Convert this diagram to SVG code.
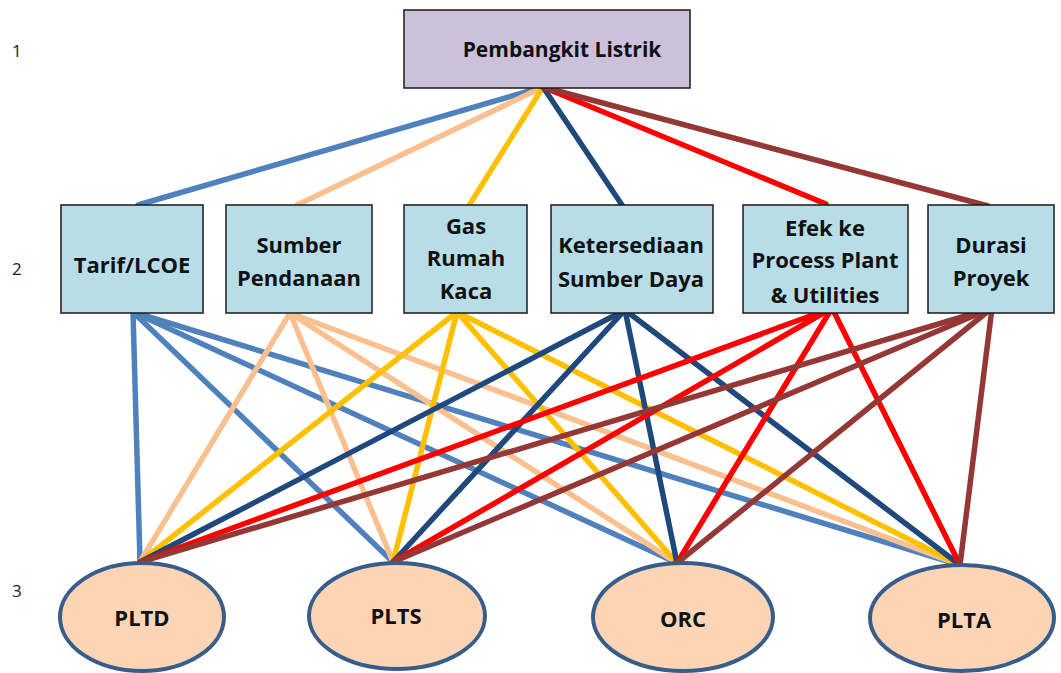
<svg xmlns="http://www.w3.org/2000/svg" width="1061" height="673" viewBox="0 0 1061 673">
  <style>
    .lvl { font-family: "Open Sans", "Liberation Sans", sans-serif; font-size: 17px; fill: #222; }
    .top { fill: #ccc1da; stroke: #1a1a1a; stroke-width: 1.5; }
    .crit { fill: #b7dee8; stroke: #1a1a1a; stroke-width: 1.5; }
    .alt { fill: #fbd5b5; stroke: #385d8a; stroke-width: 4; }
    .lbl { font-family: "Open Sans", "Liberation Sans", sans-serif; font-weight: bold; font-size: 22px; fill: #111; text-anchor: middle; }
    .goal-lbl { font-size: 21px; }
    .c line { stroke-width: 5.5; stroke-linecap: round; fill: none; }
    .c1 line { stroke: #4f81bd; }
    .c2 line { stroke: #fac090; }
    .c3 line { stroke: #ffc000; }
    .c4 line { stroke: #1f497d; }
    .c5 line { stroke: #ff0000; }
    .c6 line { stroke: #953735; }
  </style>

  <rect width="1061" height="673" fill="#ffffff"/>

  <!-- level numbers -->
  <text class="lvl" x="12" y="57">1</text>
  <text class="lvl" x="12" y="275">2</text>
  <text class="lvl" x="12" y="597">3</text>

  <!-- connectors: goal to criteria, criteria to alternatives -->
  <g id="connectors" class="c">
    <g class="c1">
      <line x1="543" y1="87" x2="138" y2="205"/>
      <line x1="133" y1="312" x2="140" y2="562"/>
      <line x1="133" y1="312" x2="393" y2="562"/>
      <line x1="133" y1="312" x2="677" y2="563"/>
      <line x1="133" y1="312" x2="960" y2="565"/>
    </g>
    <g class="c2">
      <line x1="543" y1="87" x2="297" y2="205"/>
      <line x1="290" y1="313" x2="140" y2="562"/>
      <line x1="290" y1="313" x2="393" y2="562"/>
      <line x1="290" y1="313" x2="677" y2="563"/>
      <line x1="290" y1="313" x2="960" y2="565"/>
    </g>
    <g class="c3">
      <line x1="543" y1="87" x2="470" y2="204"/>
      <line x1="457" y1="312" x2="140" y2="562"/>
      <line x1="457" y1="312" x2="393" y2="562"/>
      <line x1="457" y1="312" x2="677" y2="563"/>
      <line x1="457" y1="312" x2="960" y2="565"/>
    </g>
    <g class="c4">
      <line x1="543" y1="87" x2="622" y2="205"/>
      <line x1="625" y1="310" x2="140" y2="562"/>
      <line x1="625" y1="310" x2="393" y2="562"/>
      <line x1="625" y1="310" x2="677" y2="563"/>
      <line x1="625" y1="310" x2="960" y2="565"/>
    </g>
    <g class="c5">
      <line x1="543" y1="87" x2="826" y2="204"/>
      <line x1="832" y1="308" x2="140" y2="562"/>
      <line x1="832" y1="308" x2="393" y2="562"/>
      <line x1="832" y1="308" x2="677" y2="563"/>
      <line x1="832" y1="308" x2="960" y2="565"/>
    </g>
    <g class="c6">
      <line x1="543" y1="87" x2="988" y2="206"/>
      <line x1="992" y1="308" x2="140" y2="562"/>
      <line x1="992" y1="308" x2="393" y2="562"/>
      <line x1="992" y1="308" x2="677" y2="563"/>
      <line x1="992" y1="308" x2="960" y2="565"/>
    </g>
  </g>

  <!-- goal -->
  <g id="goal">
    <rect class="top" x="404" y="10" width="286" height="78"/>
    <text class="lbl goal-lbl" x="562" y="57">Pembangkit Listrik</text>
  </g>

  <!-- criteria -->
  <g id="tarif">
    <rect class="crit" x="61" y="205" width="142" height="108"/>
    <text class="lbl" x="132" y="273">Tarif/LCOE</text>
  </g>
  <g id="pendanaan">
    <rect class="crit" x="226" y="205" width="146" height="108"/>
    <text class="lbl" x="299" y="253">Sumber</text>
    <text class="lbl" x="299" y="286">Pendanaan</text>
  </g>
  <g id="grk">
    <rect class="crit" x="404" y="205" width="123" height="108"/>
    <text class="lbl" x="466" y="234">Gas</text>
    <text class="lbl" x="466" y="266">Rumah</text>
    <text class="lbl" x="466" y="299">Kaca</text>
  </g>
  <g id="ketersediaan">
    <rect class="crit" x="551" y="205" width="162" height="108"/>
    <text class="lbl" x="631" y="253">Ketersediaan</text>
    <text class="lbl" x="631" y="287">Sumber Daya</text>
  </g>
  <g id="efek">
    <rect class="crit" x="743" y="205" width="165" height="108"/>
    <text class="lbl" x="825" y="236">Efek ke</text>
    <text class="lbl" x="825" y="268">Process Plant</text>
    <text class="lbl" x="825" y="303">&amp; Utilities</text>
  </g>
  <g id="durasi">
    <rect class="crit" x="928" y="205" width="126" height="108"/>
    <text class="lbl" x="991" y="253">Durasi</text>
    <text class="lbl" x="991" y="286">Proyek</text>
  </g>

  <!-- alternatives -->
  <g id="pltd">
    <ellipse class="alt" cx="142" cy="617" rx="82" ry="54"/>
    <text class="lbl" x="142" y="626">PLTD</text>
  </g>
  <g id="plts">
    <ellipse class="alt" cx="397" cy="616" rx="88" ry="53"/>
    <text class="lbl" x="396" y="624">PLTS</text>
  </g>
  <g id="orc">
    <ellipse class="alt" cx="683" cy="617" rx="90" ry="54"/>
    <text class="lbl" x="683" y="627">ORC</text>
  </g>
  <g id="plta">
    <ellipse class="alt" cx="962" cy="618" rx="92" ry="53"/>
    <text class="lbl" x="964" y="628">PLTA</text>
  </g>
</svg>
